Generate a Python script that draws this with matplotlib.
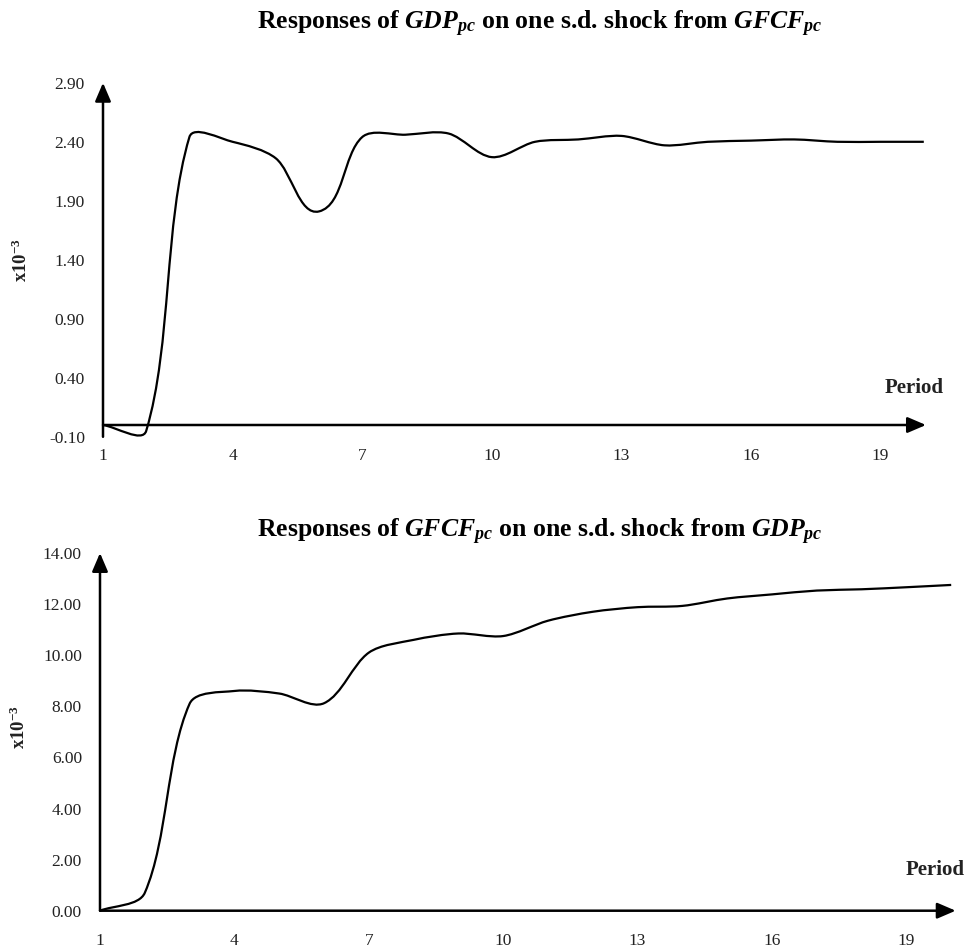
import numpy as np
import matplotlib
matplotlib.use("Agg")
import matplotlib.pyplot as plt
from matplotlib.path import Path
from matplotlib.patches import PathPatch

# ---------------- data ----------------
periods = list(range(1, 21))
gdp_resp = [0.00, -0.05, 2.44, 2.40, 2.26, 1.81, 2.44, 2.46, 2.47, 2.27,
            2.40, 2.42, 2.45, 2.37, 2.40, 2.41, 2.42, 2.40, 2.40, 2.40]
gfcf_resp = [0.00, 0.70, 8.10, 8.60, 8.50, 8.12, 10.10, 10.60, 10.85, 10.75,
             11.35, 11.70, 11.88, 11.93, 12.22, 12.38, 12.53, 12.58, 12.66, 12.75]
xtick_vals = [1, 4, 7, 10, 13, 16, 19]
top_yticks = [-0.10, 0.40, 0.90, 1.40, 1.90, 2.40, 2.90]
bot_yticks = [0.0, 2.0, 4.0, 6.0, 8.0, 10.0, 12.0, 14.0]
title_top = r'Responses of $GDP_{pc}$ on one s.d. shock from $GFCF_{pc}$'
title_bot = r'Responses of $GFCF_{pc}$ on one s.d. shock from $GDP_{pc}$'
ylab = r'x10$^{\mathbf{-3}}$'
xlab = 'Period'

# ---------------- style ----------------
plt.rcParams['font.family'] = ['Liberation Serif', 'DejaVu Serif']
plt.rcParams['mathtext.fontset'] = 'custom'
plt.rcParams['mathtext.it'] = 'Liberation Serif:italic:bold'
plt.rcParams['mathtext.bf'] = 'Liberation Serif:bold'
plt.rcParams['mathtext.rm'] = 'Liberation Serif:bold'

W, H = 968, 950
fig = plt.figure(figsize=(W / 100, H / 100), dpi=100)
fig.patch.set_facecolor('white')

TXT = '#222222'


def smooth_patch(ax, xs, ys, k=0.3, **kw):
    P = ax.transData.transform(np.column_stack([xs, ys]))
    n = len(P)
    verts = [P[0]]
    codes = [Path.MOVETO]
    for i in range(n - 1):
        p0, p1 = P[i], P[i + 1]
        d0 = P[i + 1] - P[i] if i == 0 else P[i + 1] - P[i - 1]
        d1 = P[i + 1] - P[i] if i + 2 >= n else P[i + 2] - P[i]
        L = np.linalg.norm(p1 - p0)
        c1 = p0 + d0 / np.linalg.norm(d0) * L * k
        c2 = p1 - d1 / np.linalg.norm(d1) * L * k
        verts += [c1, c2, p1]
        codes += [Path.CURVE4] * 3
    verts = ax.transData.inverted().transform(np.array(verts))
    patch = PathPatch(Path(verts, codes), fill=False, **kw)
    ax.add_patch(patch)
    return patch


def make_panel(rect, xlim, ylim, yticks, xs, ys, xaxis_y, xpad, period_xy, ylab_xy, title, title_xy):
    ax = fig.add_axes(rect)
    ax.set_xlim(*xlim)
    ax.set_ylim(*ylim)
    for s in ax.spines.values():
        s.set_visible(False)
    ax.set_xticks(xtick_vals)
    ax.set_xticklabels([str(v) for v in xtick_vals])
    ax.set_yticks(yticks)
    ax.set_yticklabels(['%.2f' % v for v in yticks])
    ax.tick_params(axis='y', length=0, pad=13, labelsize=12.5, labelcolor=TXT)
    ax.tick_params(axis='x', length=0, pad=xpad, labelsize=12.5, labelcolor=TXT)
    ax.patch.set_alpha(0)
    # axes arrows
    ap = dict(arrowstyle='-|>,head_length=0.7,head_width=0.3', lw=1.8, color='black',
              shrinkA=0, shrinkB=0, mutation_scale=16)
    ax.annotate('', xy=(xlim[1], xaxis_y), xytext=(xlim[0], xaxis_y), xycoords='data',
                arrowprops=ap, annotation_clip=False)
    ax.annotate('', xy=(xlim[0], ylim[1]), xytext=(xlim[0], ylim[0]), xycoords='data',
                arrowprops=ap, annotation_clip=False)
    smooth_patch(ax, xs, ys, k=0.3, lw=1.6, edgecolor='black', clip_on=False, zorder=3)
    fig.text(period_xy[0] / W, 1 - period_xy[1] / H, xlab, ha='center', va='center',
             fontsize=15, fontweight='bold', color=TXT)
    fig.text(ylab_xy[0] / W, 1 - ylab_xy[1] / H, ylab, ha='center', va='center',
             rotation=90, fontsize=13.5, fontweight='bold', color=TXT)
    fig.text(title_xy[0] / W, 1 - title_xy[1] / H, title, ha='center', va='baseline',
             fontsize=18.5, fontweight='bold', color='black')
    return ax


# top panel: period 1 at x=103, 43.2 px per period; y -0.10 at 436.8, 2.90 at 82.8
make_panel([103 / W, 1 - 436.8 / H, 19.05 * 43.2 / W, 354 / H],
           (1, 20.05), (-0.10, 2.90), top_yticks, periods, gdp_resp, 0.0, 8,
           (914, 388), (21, 260), title_top, (540, 29))

# bottom panel: period 1 at x=100, 44.8 px per period; y 0 at 910.7, 14 at 553
make_panel([100 / W, 1 - 910.7 / H, 19.1 * 44.8 / W, 357.7 / H],
           (1, 20.1), (0.0, 14.0), bot_yticks, periods, gfcf_resp, 0.0, 16,
           (935, 870), (19, 727), title_bot, (540, 537))

fig.savefig('out.png', dpi=100, facecolor='white')
